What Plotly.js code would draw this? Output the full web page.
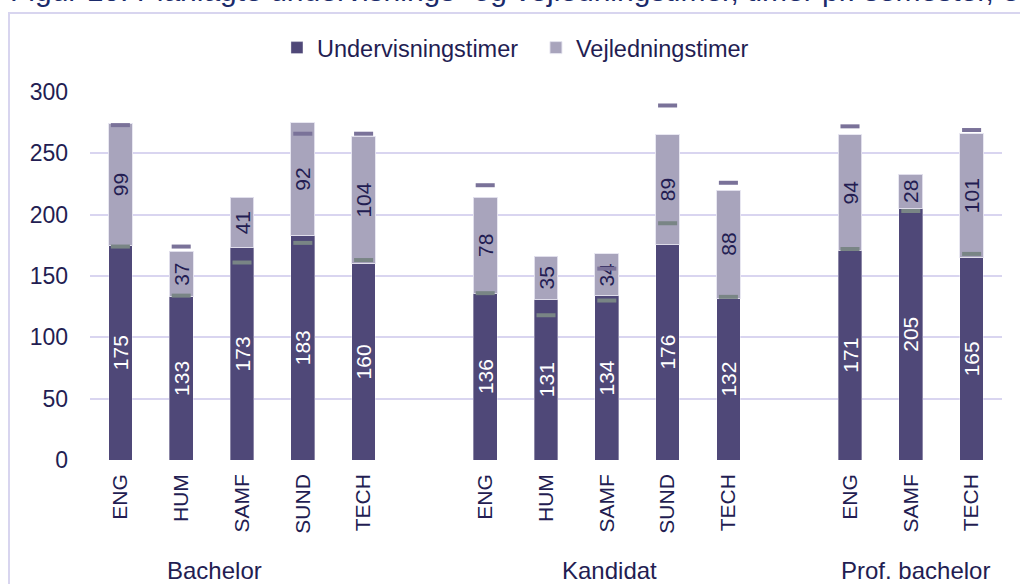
<!DOCTYPE html>
<html>
<head>
<meta charset="utf-8">
<script src="https://cdn.plot.ly/plotly-3.0.1.min.js"></script>
<style>
  html, body { margin: 0; padding: 0; background: #ffffff; overflow: hidden; }
  #chart { position: absolute; left: 0; top: 0; width: 1020px; height: 584px; }
  #frame { position: absolute; left: 8px; top: 12px; width: 1100px; height: 700px;
           border-left: 2px solid #d8d5ef; border-top: 2px solid #d8d5ef; pointer-events: none; }
</style>
</head>
<body>
<div id="chart"></div>
<div id="frame"></div>
<script>
// ---- data ----
const titleText = 'Figur 10: Planlagte undervisnings- og vejledningstimer, timer pr. semester, e';
const categories = ['ENG','HUM','SAMF','SUND','TECH','ENG','HUM','SAMF','SUND','TECH','ENG','SAMF','TECH'];
const groupLabels = ['Bachelor','Bachelor','Bachelor','Bachelor','Bachelor',
                     'Kandidat','Kandidat','Kandidat','Kandidat','Kandidat',
                     'Prof. bachelor','Prof. bachelor','Prof. bachelor'];
const undervisning = [175,133,173,183,160,136,131,134,176,132,171,205,165];
const vejledning   = [99,37,41,92,104,78,35,34,89,88,94,28,101];
// short dash markers (comparison values)
const prevTotal    = [273,174,null,266,266,224,null,156,289,226,272,null,269];
const prevUnderv   = [174,134,161,177,163,136,118,130,193,133,172,203,168];
const yTicks = [0,50,100,150,200,250,300];

// ---- layout helpers: slot positions with an empty slot between groups ----
const xPos = [];
let slot = 0;
categories.forEach((c, i) => {
  if (i > 0 && groupLabels[i] !== groupLabels[i-1]) slot += 1;
  xPos.push(slot);
  slot += 1;
});
const maxSlot = xPos[xPos.length-1];

const FONT = 'Liberation Sans, Arial, sans-serif';
const DARK = '#4f4878';
const LIGHT = '#a8a4bc';
const TXT = '#231d52';

const groupNames = [...new Set(groupLabels)];
const groupCenterShift = {'Bachelor': -0.46, 'Kandidat': 0.05, 'Prof. bachelor': 0.08};
const groupAnnots = groupNames.map(g => {
  const xs = xPos.filter((x, i) => groupLabels[i] === g);
  const c = (xs[0] + xs[xs.length-1]) / 2 + groupCenterShift[g];
  return {x: c, xref: 'x', y: 0, yref: 'paper', yanchor: 'middle', xanchor: 'center',
          yshift: -110, showarrow: false, text: g,
          font: {family: FONT, size: 24, color: TXT}};
});

const traces = [
  {
    type: 'bar', name: 'Undervisningstimer', x: xPos, y: undervisning,
    text: undervisning.map(String), textposition: 'inside', insidetextanchor: 'middle',
    textangle: -90, constraintext: 'none',
    textfont: {family: FONT, size: 21, color: '#ffffff'},
    marker: {color: DARK, line: {color: 'rgba(255,255,255,0.35)', width: 1}},
    width: 0.39, hoverinfo: 'skip'
  },
  {
    type: 'bar', name: 'Vejledningstimer', x: xPos, y: vejledning,
    text: vejledning.map(String), textposition: 'inside', insidetextanchor: 'middle',
    textangle: -90, constraintext: 'none',
    textfont: {family: FONT, size: 21, color: TXT},
    marker: {color: LIGHT, line: {color: 'rgba(230,228,240,0.9)', width: 1}},
    width: 0.39, hoverinfo: 'skip'
  },
  {
    type: 'scatter', mode: 'markers', x: xPos, y: prevTotal, showlegend: false,
    marker: {symbol: 'line-ew', size: 13.6, line: {color: '#7a7299', width: 4}},
    hoverinfo: 'skip'
  },
  {
    type: 'scatter', mode: 'markers', x: xPos, y: prevUnderv, showlegend: false,
    marker: {symbol: 'line-ew', size: 13.6, line: {color: '#798585', width: 4}},
    hoverinfo: 'skip'
  }
];

const layout = {
  width: 1020, height: 584,
  margin: {l: 90, r: 18, t: 92, b: 124},
  paper_bgcolor: 'rgba(0,0,0,0)', plot_bgcolor: 'rgba(0,0,0,0)',
  barmode: 'stack',
  showlegend: true,
  font: {family: FONT, color: TXT},
  legend: {
    orientation: 'h', x: 0.205, xanchor: 'left', y: 1.12, yanchor: 'middle',
    font: {family: FONT, size: 23.5, color: TXT},
    itemwidth: 30, entrywidth: 214, entrywidthmode: 'pixels',
    traceorder: 'normal', itemclick: false, itemdoubleclick: false
  },
  xaxis: {
    type: 'linear', range: [-0.5, maxSlot + 0.5],
    tickmode: 'array', tickvals: xPos, ticktext: categories,
    tickangle: -90, ticks: '', showgrid: false, zeroline: false, showline: false,
    ticklabelstandoff: 9,
    tickfont: {family: FONT, size: 21, color: TXT},
    fixedrange: true
  },
  yaxis: {
    range: [0, 300], tickmode: 'array', tickvals: yTicks,
    ticks: '', showgrid: true, gridcolor: '#d9d5f0', gridwidth: 2,
    zeroline: false, showline: false, ticklabelstandoff: 21,
    tickfont: {family: FONT, size: 23, color: TXT},
    fixedrange: true
  },
  annotations: [
    {x: -0.09, xref: 'paper', xanchor: 'left', y: 1, yref: 'paper', yanchor: 'bottom',
     yshift: 82.5, showarrow: false, text: titleText,
     font: {family: FONT, size: 30, color: '#1b2b6b'}}
  ].concat(groupAnnots)
};

Plotly.newPlot('chart', traces, layout, {staticPlot: true, displayModeBar: false});
</script>
</body>
</html>
